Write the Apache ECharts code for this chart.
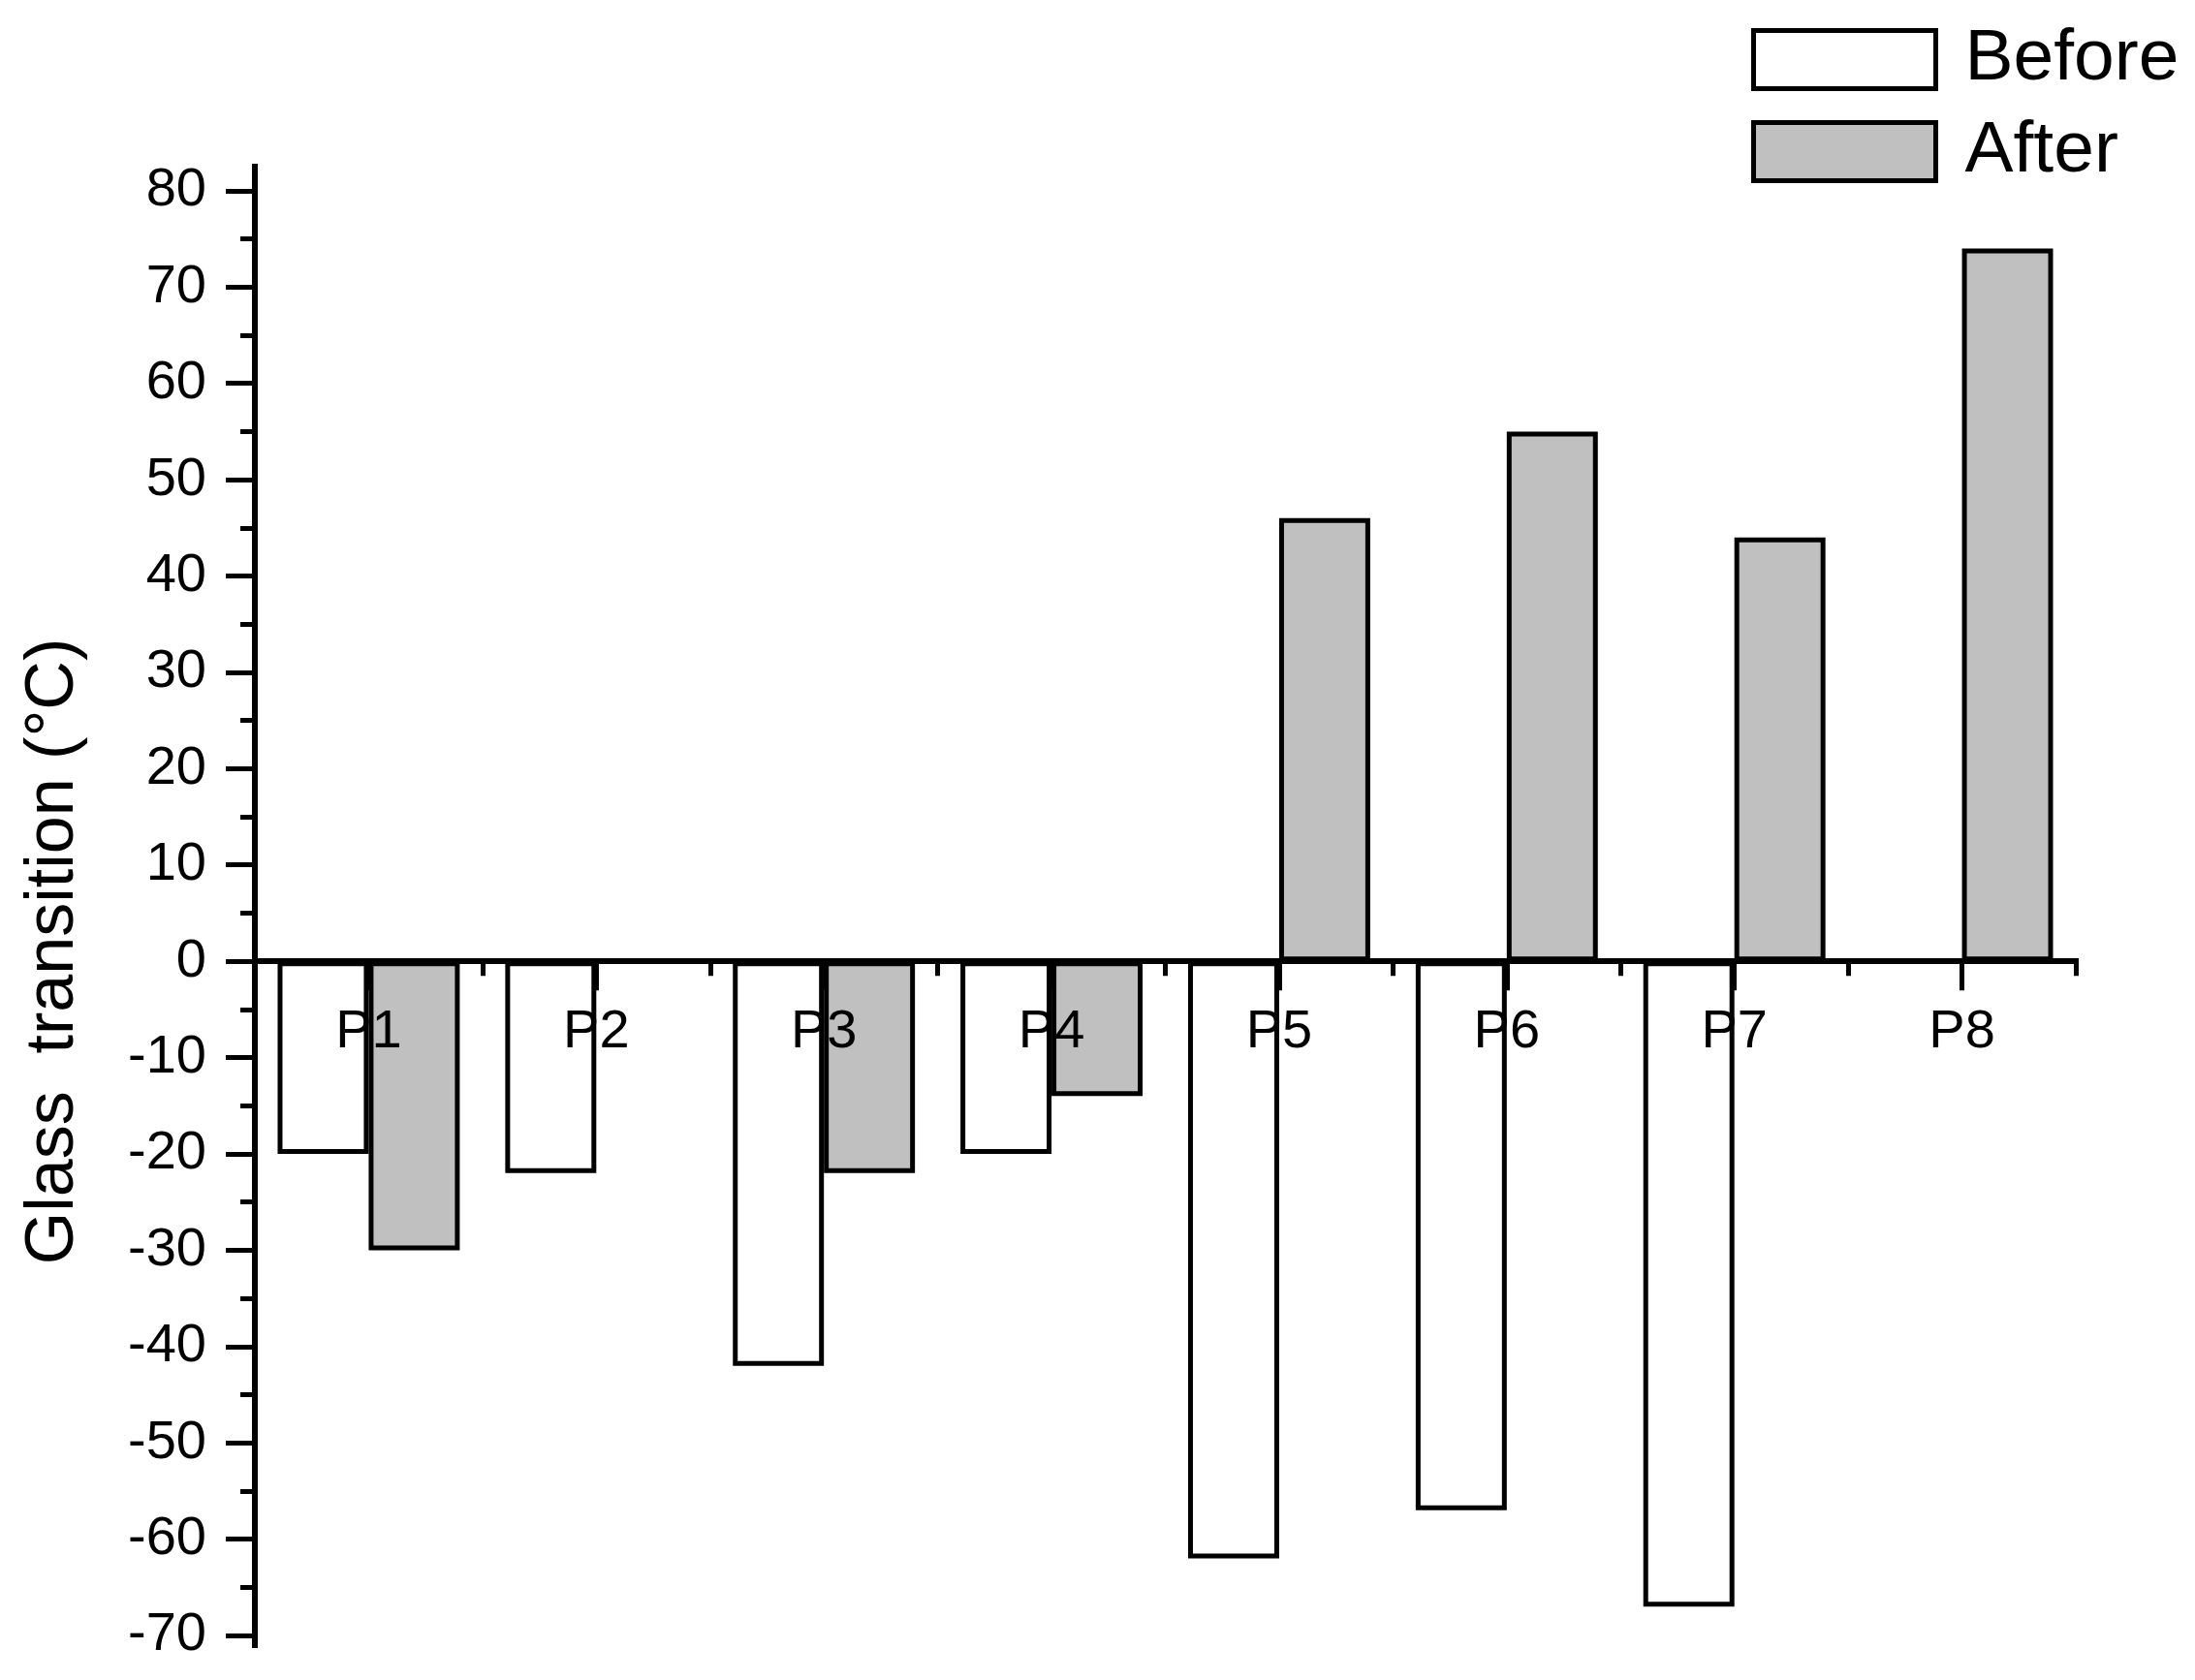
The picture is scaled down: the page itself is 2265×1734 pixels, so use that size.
<!DOCTYPE html>
<html><head><meta charset="utf-8">
<script src="https://cdn.jsdelivr.net/npm/echarts@6/dist/echarts.min.js"></script>
<style>html,body{margin:0;padding:0;background:#fff}#c{width:2265px;height:1734px}</style>
</head><body><div id="c"></div>
<script>
const categories = ['P1', 'P2', 'P3', 'P4', 'P5', 'P6', 'P7', 'P8'];
const beforeValues = [-20, -22, -42, -20, -62, -57, -67, null];
const afterValues = [-30, null, -22, -14, 46, 55, 44, 74];
const majorTicks = [-70, -60, -50, -40, -30, -20, -10, 0, 10, 20, 30, 40, 50, 60, 70, 80];
const minorTicks = [-65, -55, -45, -35, -25, -15, -5, 5, 15, 25, 35, 45, 55, 65, 75];
const seriesNames = ['Before', 'After'];
const yName = 'Glass  transition (°C)';
const yMin = -71;
const yMax = 82.5;

const FONT = '"Liberation Sans", Arial, Helvetica, sans-serif';
const chart = echarts.init(document.getElementById('c'), null, {renderer: 'canvas'});
const axisLineStyle = {color: '#000', width: 6, cap: 'square'};
const tickLine = {color: '#000', width: 5};

function xAxes(offset) {
  return [{
    type: 'category',
    data: categories,
    position: 'bottom',
    offset: offset,
    z: 10,
    axisLine: {show: true, onZero: false, lineStyle: axisLineStyle},
    axisTick: {show: true, alignWithLabel: true, length: 30, inside: false, lineStyle: tickLine},
    axisLabel: {show: true, margin: 45, fontSize: 56, color: '#000', fontFamily: FONT},
    splitLine: {show: false}
  }, {
    type: 'category',
    data: categories,
    position: 'bottom',
    offset: offset,
    z: 10,
    axisLine: {show: true, onZero: false, lineStyle: axisLineStyle},
    axisTick: {show: true, alignWithLabel: false, length: 15, inside: false, lineStyle: tickLine},
    axisLabel: {show: false},
    splitLine: {show: false}
  }];
}

chart.setOption({
  animation: false,
  backgroundColor: '#fff',
  textStyle: {fontFamily: FONT, color: '#000'},
  grid: {left: 263, right: 123, top: 172, bottom: 36, containLabel: false, outerBoundsMode: 'none'},
  legend: {
    data: seriesNames,
    orient: 'vertical',
    left: 1807, top: 24,
    padding: 0,
    itemWidth: 188, itemHeight: 60, itemGap: 20,
    icon: 'rect',
    itemStyle: {borderWidth: 5, borderColor: '#000'},
    textStyle: {fontFamily: FONT, fontSize: 75, color: '#000', padding: [0, 0, 0, 25]}
  },
  xAxis: xAxes(0),
  yAxis: [{
    type: 'value',
    position: 'left',
    min: yMin, max: yMax,
    name: yName,
    nameLocation: 'middle',
    nameGap: 172,
    nameTextStyle: {fontSize: 70, color: '#000', fontFamily: FONT, padding: [0, 94, 0, 0]},
    axisLine: {show: true, onZero: false, lineStyle: axisLineStyle},
    axisTick: {show: true, length: 30, lineStyle: tickLine, customValues: majorTicks},
    axisLabel: {show: true, margin: 50, fontSize: 56, color: '#000', fontFamily: FONT, customValues: majorTicks},
    splitLine: {show: false}
  }, {
    type: 'value',
    position: 'left',
    min: yMin, max: yMax,
    axisLine: {show: false, onZero: false},
    axisTick: {show: true, length: 15, lineStyle: tickLine, customValues: minorTicks},
    axisLabel: {show: false},
    splitLine: {show: false}
  }],
  series: [{
    name: seriesNames[0],
    type: 'bar',
    xAxisIndex: 0, yAxisIndex: 0,
    data: beforeValues,
    barGap: '0%',
    barCategoryGap: '20%',
    itemStyle: {color: '#ffffff', borderColor: '#000', borderWidth: 5}
  }, {
    name: seriesNames[1],
    type: 'bar',
    xAxisIndex: 0, yAxisIndex: 0,
    data: afterValues,
    barGap: '0%',
    barCategoryGap: '20%',
    itemStyle: {color: '#c0c0c0', borderColor: '#000', borderWidth: 5}
  }]
});

// place the category axis on the value-axis zero, using the library's own scale
const zeroPx = chart.convertToPixel({yAxisIndex: 0}, 0);
const bottomPx = chart.convertToPixel({yAxisIndex: 0}, yMin);
chart.setOption({xAxis: xAxes(zeroPx - bottomPx)});
</script>
</body></html>
